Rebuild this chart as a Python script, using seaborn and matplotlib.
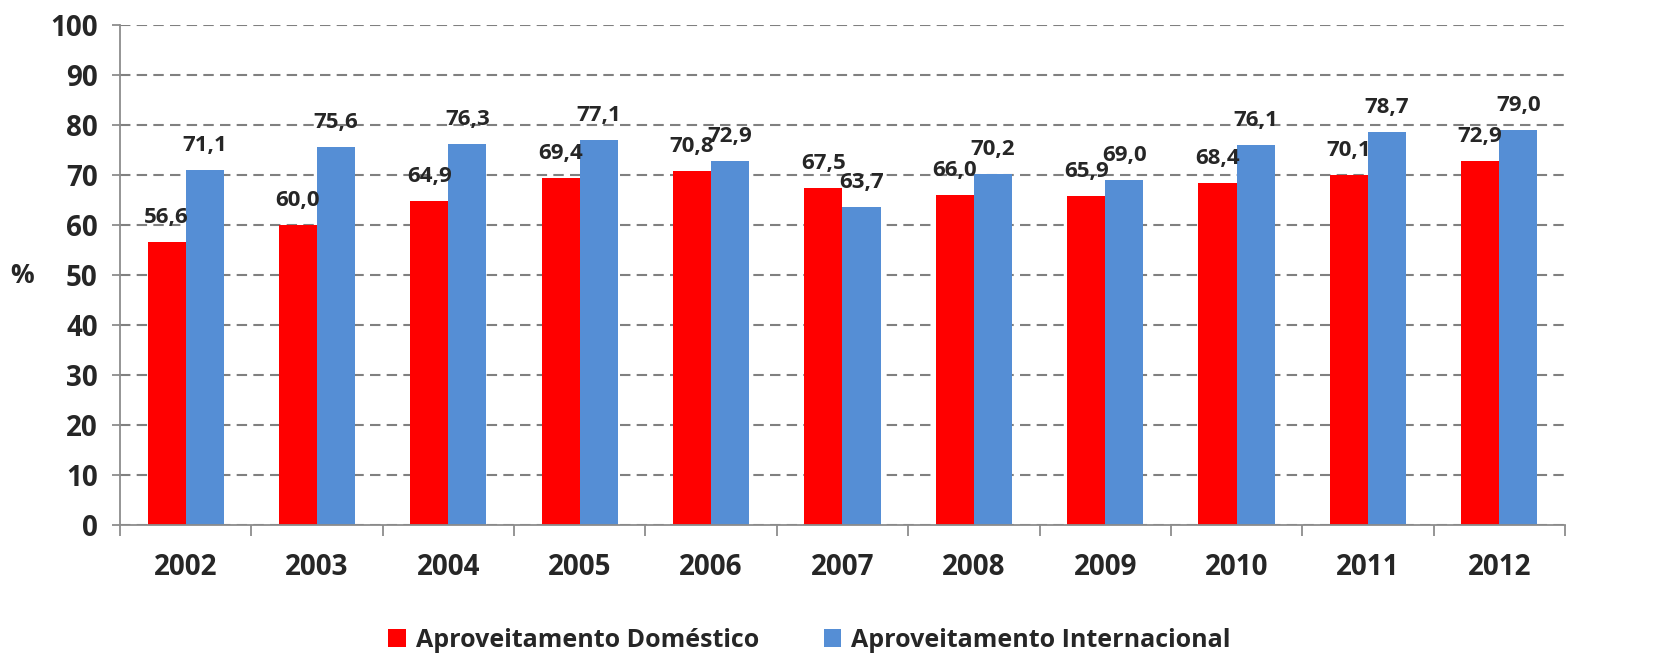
import matplotlib
matplotlib.use("Agg")
import matplotlib.pyplot as plt
import seaborn as sns
import pandas as pd
from matplotlib.ticker import FixedLocator
from matplotlib.patches import Patch

years = ["2002", "2003", "2004", "2005", "2006", "2007", "2008", "2009", "2010", "2011", "2012"]
domestico = [56.6, 60.0, 64.9, 69.4, 70.8, 67.5, 66.0, 65.9, 68.4, 70.1, 72.9]
internacional = [71.1, 75.6, 76.3, 77.1, 72.9, 63.7, 70.2, 69.0, 76.1, 78.7, 79.0]
series_names = ["Aproveitamento Doméstico", "Aproveitamento Internacional"]
colors = ["#FF0000", "#558ED5"]
y_ticks = [0, 10, 20, 30, 40, 50, 60, 70, 80, 90, 100]

df = pd.DataFrame({
    "Ano": years * 2,
    "Valor": domestico + internacional,
    "Serie": [series_names[0]] * len(years) + [series_names[1]] * len(years),
})

sns.set_theme(style="white")
plt.rcParams["font.family"] = ["Open Sans", "DejaVu Sans"]
plt.rcParams["font.weight"] = "bold"

fig = plt.figure(figsize=(16.62, 6.67), dpi=100)
ax = fig.add_axes([0.0722, 0.2129, 0.8694, 0.7496])

sns.barplot(data=df, x="Ano", y="Valor", hue="Serie", palette=colors,
            width=0.58, ax=ax, saturation=1, legend=False, errorbar=None,
            edgecolor="none")

ax.set_ylim(0, 100)
ax.set_xlim(-0.5, len(years) - 0.5)
ax.set_yticks(y_ticks)
ax.yaxis.grid(True, color="#808080", linestyle=(0, (5, 3)), linewidth=1.5)
ax.set_axisbelow(True)

for spine in ["top", "right"]:
    ax.spines[spine].set_visible(False)
for spine in ["left", "bottom"]:
    ax.spines[spine].set_color("#8C8C8C")
    ax.spines[spine].set_linewidth(1.3)

ax.tick_params(axis="y", which="major", left=True, length=6, width=1.3, color="#8C8C8C",
               pad=10, labelsize=20)
ax.tick_params(axis="x", which="major", bottom=False, length=0, pad=20, labelsize=20)
ax.xaxis.set_minor_locator(FixedLocator([i - 0.5 for i in range(len(years) + 1)]))
ax.tick_params(axis="x", which="minor", bottom=True, length=8, width=1.3, color="#8C8C8C")
for lbl in ax.get_xticklabels() + ax.get_yticklabels():
    lbl.set_fontweight("bold")

ax.set_xlabel("")
ax.set_ylabel("%", rotation=0, fontsize=19, fontweight="bold", va="center")
ax.yaxis.set_label_coords(-0.068, 0.5)

for cont, vals in zip(ax.containers, [domestico, internacional]):
    ax.bar_label(cont, labels=[f"{v:.1f}".replace(".", ",") for v in vals],
                 padding=10, fontsize=16, fontweight="bold")

handles = [Patch(facecolor=c, edgecolor="none") for c in colors]
fig.legend(handles, series_names, loc="lower center", bbox_to_anchor=(0.487, -0.012),
           ncol=2, frameon=False, handlelength=0.7, handleheight=0.7,
           handletextpad=0.4, columnspacing=2.6, prop={"weight": "bold", "size": 18})

fig.savefig("out.png", dpi=100)
